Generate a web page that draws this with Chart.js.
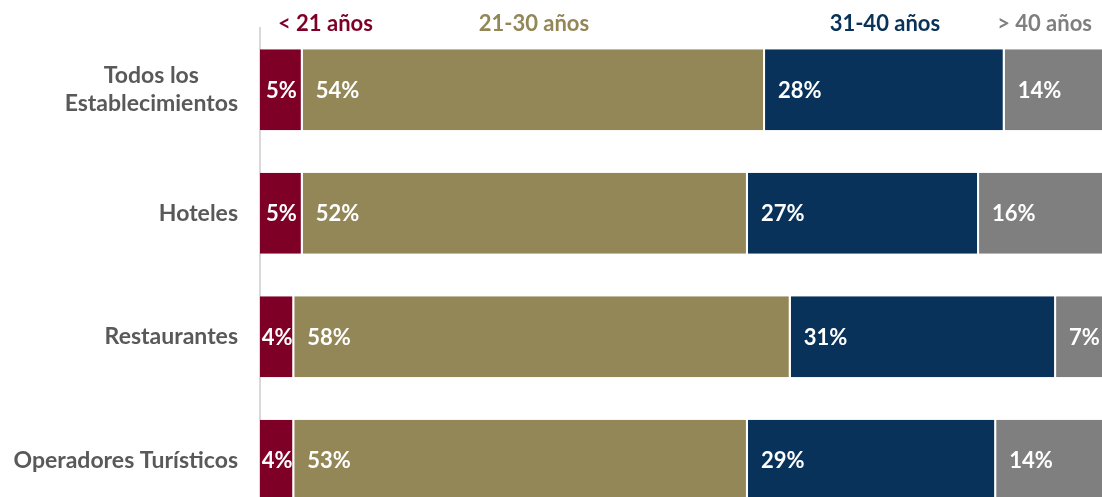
<!DOCTYPE html>
<html>
<head>
<meta charset="utf-8">
<script src="https://cdn.jsdelivr.net/npm/chart.js@4.4.0/dist/chart.umd.min.js"></script>
<style>
  html, body { margin: 0; padding: 0; background: #fff; overflow: hidden; }
  #wrap { position: absolute; left: 0; top: 0; width: 1120px; height: 524px; }
</style>
</head>
<body>
<div id="wrap"><canvas id="chartEdades" width="1120" height="524"></canvas></div>
<script>
// ---------- DATOS
const categorias = [['Todos los', 'Establecimientos'], 'Hoteles', 'Restaurantes', 'Operadores Turísticos'];
const rangos = ['< 21 años', '21-30 años', '31-40 años', '> 40 años'];
const menos21 = [5, 5, 4, 4];
const de21a30 = [54, 52, 58, 53];
const de31a40 = [28, 27, 31, 29];
const mas40 = [14, 16, 7, 14];

const colores = ['#7F0026', '#938657', '#08325A', '#7F7F7F'];
const FUENTE = 'Lato, "Open Sans", sans-serif';
const ANCHO_VISIBLE = 1102;

// ---------- ETIQUETAS: valores, rangos de edad y categorías
const pluginEtiquetas = {
  id: 'etiquetasEdades',
  afterDatasetsDraw(chart) {
    const ctx = chart.ctx;
    const area = chart.chartArea;
    ctx.save();
    ctx.textBaseline = 'middle';

    // porcentajes dentro de cada barra
    ctx.font = 'bold 22px ' + FUENTE;
    ctx.fillStyle = '#FFFFFF';
    chart.data.datasets.forEach((ds, i) => {
      chart.getDatasetMeta(i).data.forEach((bar, j) => {
        const txt = ds.data[j] + '%';
        if (i === 0) {
          ctx.textAlign = 'center';
          ctx.fillText(txt, (bar.base + bar.x) / 2, bar.y + 1);
        } else {
          ctx.textAlign = 'left';
          ctx.fillText(txt, bar.base + 13, bar.y + 1);
        }
      });
    });

    // rangos de edad sobre la primera barra
    ctx.font = 'bold 22px ' + FUENTE;
    chart.data.datasets.forEach((ds, i) => {
      const bar = chart.getDatasetMeta(i).data[0];
      const w = ctx.measureText(ds.label).width;
      let x;
      if (i === 0) {
        x = bar.base + 18;
      } else {
        x = (bar.base + bar.x) / 2 - w / 2;
        x = Math.min(x, ANCHO_VISIBLE - 10 - w);
      }
      ctx.textAlign = 'left';
      ctx.fillStyle = colores[i];
      ctx.fillText(ds.label, x, area.top - 4);
    });

    // categorías a la izquierda
    ctx.font = 'bold 23px ' + FUENTE;
    ctx.fillStyle = '#595959';
    ctx.textAlign = 'center';
    const escalaY = chart.scales.y;
    chart.data.labels.forEach((lbl, j) => {
      const lineas = Array.isArray(lbl) ? lbl : [lbl];
      const ancho = Math.max(...lineas.map(l => ctx.measureText(l).width));
      const cx = area.left - 22 - ancho / 2;
      const cy = escalaY.getPixelForValue(j);
      lineas.forEach((l, k) => {
        ctx.fillText(l, cx, cy + (k - (lineas.length - 1) / 2) * 28);
      });
    });
    ctx.restore();
  }
};

const series = [menos21, de21a30, de31a40, mas40];
const ctx = document.getElementById('chartEdades').getContext('2d');
const chartEdades = new Chart(ctx, {
  type: 'bar',
  data: {
    labels: categorias,
    datasets: series.map((s, i) => ({
      label: rangos[i],
      data: s,
      backgroundColor: colores[i],
      borderColor: '#FFFFFF',
      borderWidth: { left: 0, right: 2, top: 0, bottom: 0 },
      borderSkipped: 'start',
      barPercentage: 0.656,
      categoryPercentage: 1
    }))
  },
  options: {
    indexAxis: 'y',
    responsive: false,
    animation: false,
    layout: { padding: { top: 28, right: 4, bottom: 2, left: 0 } },
    plugins: {
      legend: { display: false },
      tooltip: { enabled: false }
    },
    scales: {
      x: {
        stacked: true,
        min: 0,
        max: 100,
        display: false
      },
      y: {
        stacked: true,
        ticks: { display: false },
        grid: { display: false, drawTicks: false },
        border: { display: true, color: '#D9D9D9', width: 2 },
        afterFit(scale) { scale.width = 260; }
      }
    }
  },
  plugins: [pluginEtiquetas]
});
</script>
</body>
</html>
